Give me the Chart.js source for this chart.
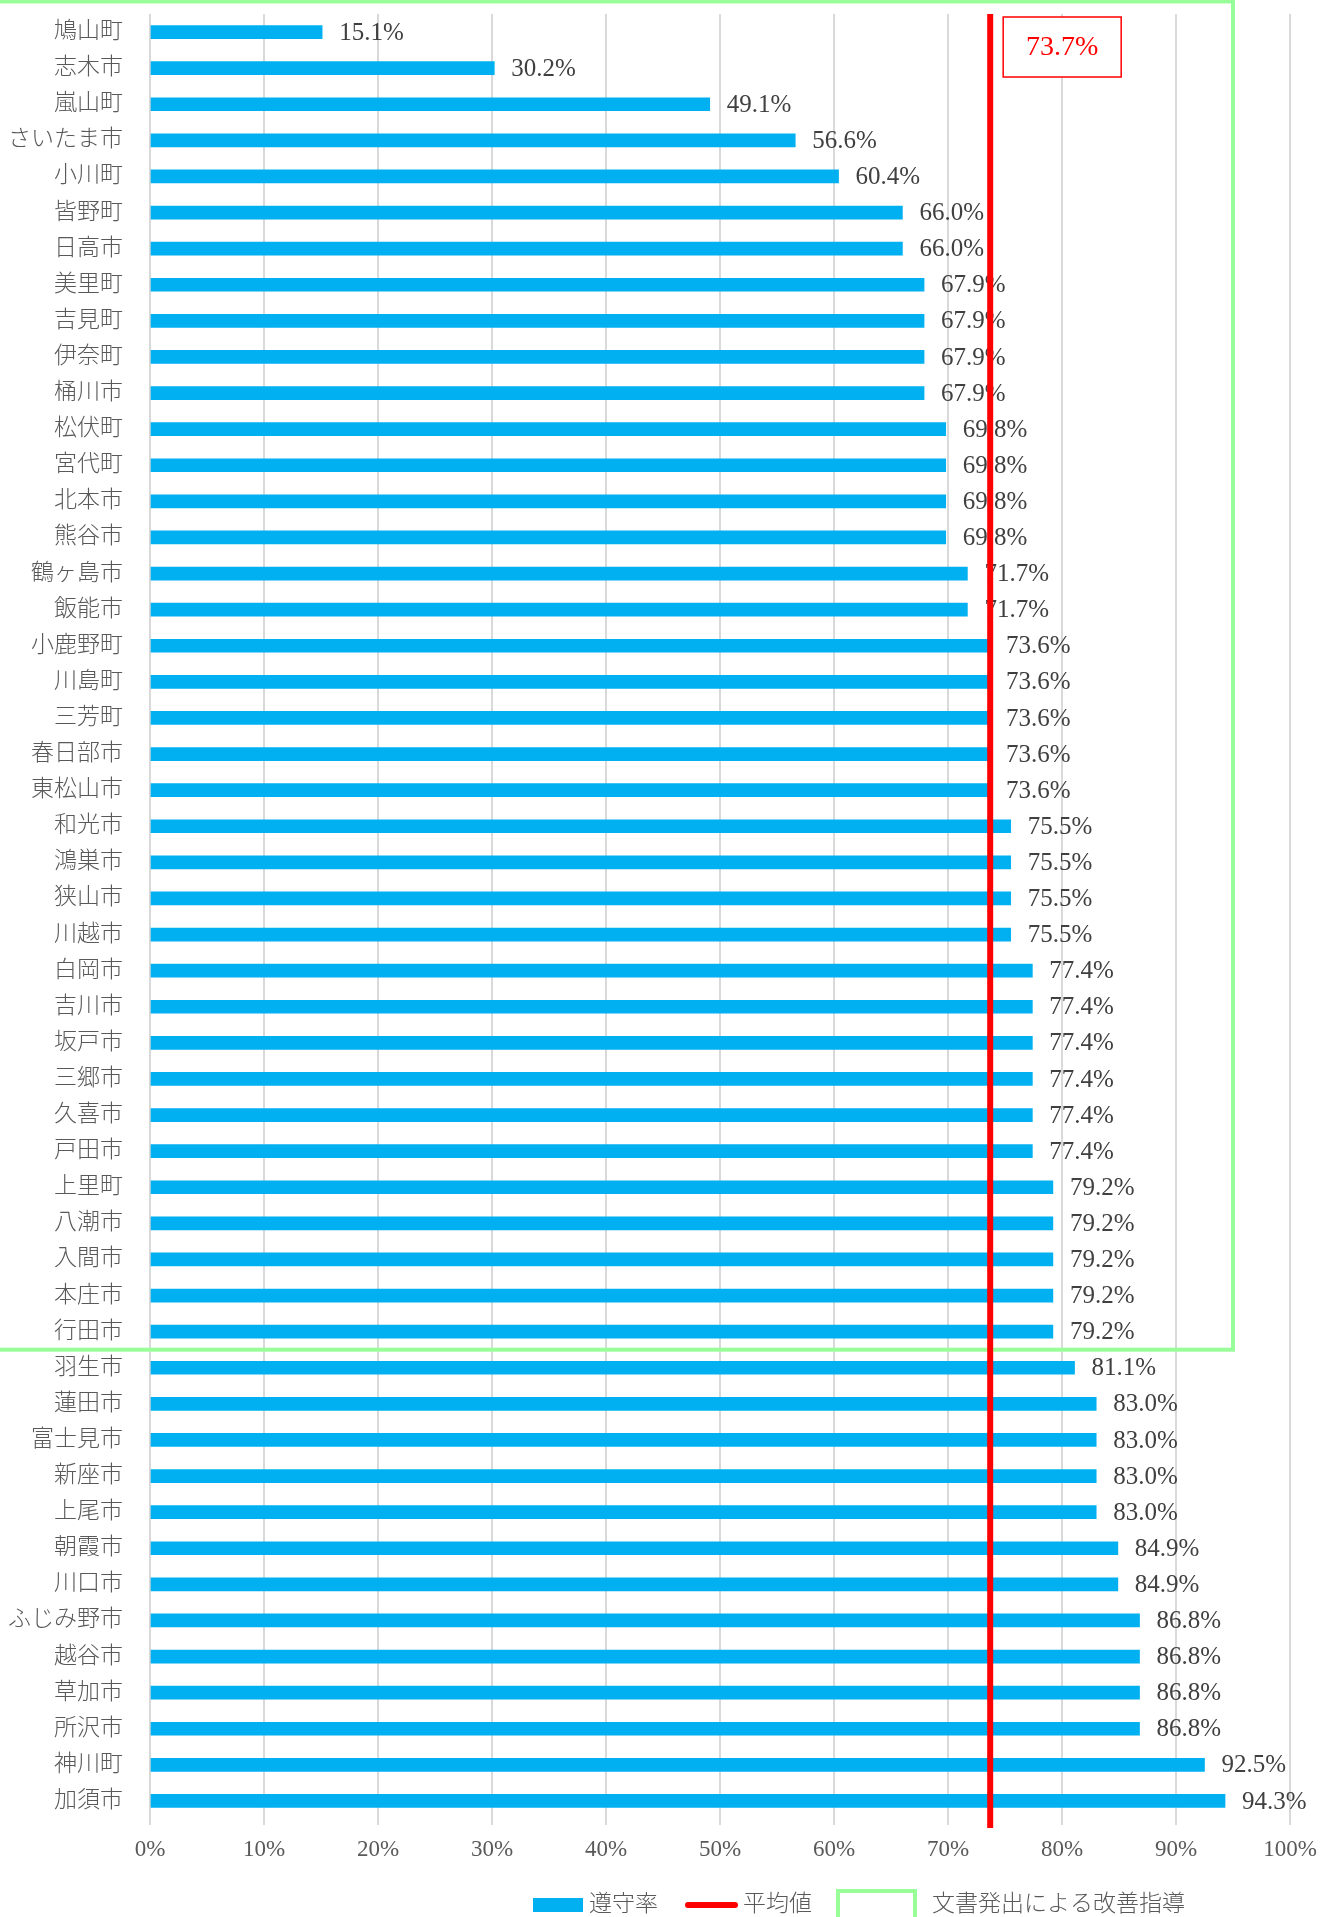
<!DOCTYPE html>
<html lang="ja">
<head>
<meta charset="utf-8">
<title>遵守率</title>
<script src="https://cdn.jsdelivr.net/npm/chart.js@4.4.1/dist/chart.umd.min.js"></script>
<style>
  html, body { margin: 0; padding: 0; background: #ffffff; }
  #chartCanvas { display: block; }
</style>
</head>
<body>
<canvas id="chartCanvas" width="1334" height="1917"></canvas>
<script>
// 市町村名（上から順）
const categories = [
  '鳩山町', '志木市', '嵐山町', 'さいたま市', '小川町', '皆野町', '日高市', '美里町', '吉見町', '伊奈町',
  '桶川市', '松伏町', '宮代町', '北本市', '熊谷市', '鶴ヶ島市', '飯能市', '小鹿野町', '川島町', '三芳町',
  '春日部市', '東松山市', '和光市', '鴻巣市', '狭山市', '川越市', '白岡市', '吉川市', '坂戸市', '三郷市',
  '久喜市', '戸田市', '上里町', '八潮市', '入間市', '本庄市', '行田市', '羽生市', '蓮田市', '富士見市',
  '新座市', '上尾市', '朝霞市', '川口市', 'ふじみ野市', '越谷市', '草加市', '所沢市', '神川町', '加須市'
];

// 遵守率（%）
const complianceRates = [
  15.1, 30.2, 49.1, 56.6, 60.4, 66.0, 66.0, 67.9, 67.9, 67.9,
  67.9, 69.8, 69.8, 69.8, 69.8, 71.7, 71.7, 73.6, 73.6, 73.6,
  73.6, 73.6, 75.5, 75.5, 75.5, 75.5, 77.4, 77.4, 77.4, 77.4,
  77.4, 77.4, 79.2, 79.2, 79.2, 79.2, 79.2, 81.1, 83.0, 83.0,
  83.0, 83.0, 84.9, 84.9, 86.8, 86.8, 86.8, 86.8, 92.5, 94.3
];

// 平均値
const averageRate = 73.7;

// 文書発出による改善指導の対象（上から何件目まで）
const guidanceCount = 37;

// 横軸の目盛ラベル
const xTickLabels = ['0%', '10%', '20%', '30%', '40%', '50%', '60%', '70%', '80%', '90%', '100%'];

// 凡例
const legendLabels = ['遵守率', '平均値', '文書発出による改善指導'];

document.addEventListener('DOMContentLoaded', () => {

    const BLUE = '#00b0f0';
    const RED = '#ff0000';
    const GREEN = '#99ff99';
    const GRAY_TEXT = '#595959';
    const FONT = "'Liberation Serif', 'Noto Sans CJK JP', serif";

    // 棒の右側に値ラベル
    const dataLabelPlugin = {
        id: 'dataLabels',
        afterDatasetDraw(chart, args) {
            if (args.index !== 0) return;
            const c = chart.ctx;
            c.save();
            c.font = `25px ${FONT}`;
            c.fillStyle = '#404040';
            c.textAlign = 'left';
            c.textBaseline = 'middle';
            args.meta.data.forEach((bar, i) => {
                c.fillText(complianceRates[i].toFixed(1) + '%', bar.x + 17, bar.y + 1);
            });
            c.restore();
        }
    };

    // 改善指導の枠（緑）
    const guidanceBoxPlugin = {
        id: 'guidanceBox',
        beforeDatasetsDraw(chart) {
            const c = chart.ctx;
            const y = chart.scales.y;
            const x = chart.scales.x;
            const bottom = (y.getPixelForValue(guidanceCount - 1) + y.getPixelForValue(guidanceCount)) / 2;
            const right = x.getPixelForValue(95);
            c.save();
            c.strokeStyle = GREEN;
            c.lineWidth = 4;
            c.strokeRect(-2, 1.5, right + 2, bottom - 1.5);
            c.restore();
        }
    };

    // 平均値の線、ラベルの枠、凡例
    const overlayPlugin = {
        id: 'overlay',
        afterDatasetsDraw(chart) {
            const c = chart.ctx;
            const area = chart.chartArea;
            const ax = chart.scales.x.getPixelForValue(averageRate);
            c.save();
            c.strokeStyle = RED;
            c.lineWidth = 6;
            c.beginPath();
            c.moveTo(ax, area.top);
            c.lineTo(ax, area.bottom + 9);
            c.stroke();
            c.restore();
        },
        afterDraw(chart) {
            const c = chart.ctx;
            const ax = chart.scales.x.getPixelForValue(averageRate);

            // 73.7% の箱
            c.save();
            c.fillStyle = '#ffffff';
            c.fillRect(ax + 13, 17, 118, 60);
            c.strokeStyle = RED;
            c.lineWidth = 1.5;
            c.strokeRect(ax + 13, 17, 118, 60);
            c.fillStyle = RED;
            c.font = `28px ${FONT}`;
            c.textAlign = 'center';
            c.textBaseline = 'middle';
            c.fillText(averageRate.toFixed(1) + '%', ax + 13 + 59, 48);
            c.restore();

            // 凡例
            const ly = 1905;
            c.save();
            c.font = `300 23px ${FONT}`;
            c.textBaseline = 'middle';
            c.textAlign = 'left';

            c.fillStyle = BLUE;
            c.fillRect(533, 1898, 50, 14);
            c.fillStyle = GRAY_TEXT;
            c.fillText(legendLabels[0], 589, ly);

            c.strokeStyle = RED;
            c.lineWidth = 6;
            c.lineCap = 'round';
            c.beginPath();
            c.moveTo(688, ly);
            c.lineTo(735, ly);
            c.stroke();
            c.fillText(legendLabels[1], 743, ly);

            c.strokeStyle = GREEN;
            c.lineWidth = 4;
            c.lineCap = 'butt';
            c.strokeRect(838, 1891, 77, 40);
            c.fillText(legendLabels[2], 932, ly);
            c.restore();
        }
    };

    const ctx = document.getElementById('chartCanvas').getContext('2d');
    new Chart(ctx, {
        type: 'bar',
        data: {
            labels: categories,
            datasets: [
                {
                    label: legendLabels[0],
                    data: complianceRates,
                    backgroundColor: BLUE,
                    barThickness: 13
                }
            ]
        },
        options: {
            indexAxis: 'y',
            responsive: false,
            animation: false,
            layout: { padding: { top: 14, right: 44, left: 0, bottom: 0 } },
            plugins: {
                legend: { display: false },
                tooltip: { enabled: false }
            },
            scales: {
                x: {
                    min: 0, max: 100,
                    ticks: {
                        stepSize: 10,
                        color: GRAY_TEXT,
                        font: { family: FONT, size: 23 },
                        padding: 11,
                        maxRotation: 0,
                        callback: (v, i) => xTickLabels[i]
                    },
                    grid: { color: '#d9d9d9', lineWidth: 2, tickLength: 6 },
                    border: { display: false },
                    afterFit: (s) => { s.height = 98; }
                },
                y: {
                    ticks: {
                        color: GRAY_TEXT,
                        font: { family: FONT, size: 23, weight: '300' },
                        padding: 27,
                        autoSkip: false
                    },
                    grid: { display: false, drawTicks: false },
                    border: { display: false },
                    afterFit: (s) => { s.width = 150; s.paddingTop = 0; s.paddingBottom = 0; }
                }
            }
        },
        plugins: [dataLabelPlugin, guidanceBoxPlugin, overlayPlugin]
    });
});
</script>
</body>
</html>
